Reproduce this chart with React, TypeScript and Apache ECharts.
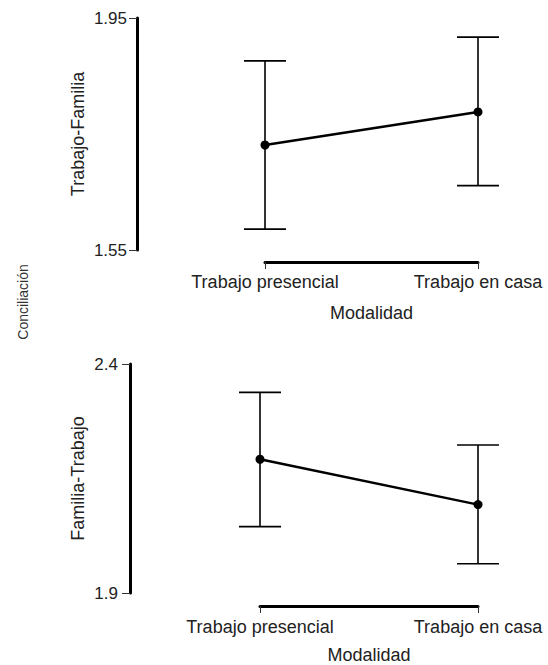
import React, { useEffect, useRef } from "react";
import * as echarts from "echarts";

const categories = ["Trabajo presencial", "Trabajo en casa"];
const tfMean = [1.731, 1.788];
const tfLow = [1.586, 1.661];
const tfHigh = [1.876, 1.917];
const ftMean = [2.192, 2.093];
const ftLow = [2.045, 1.964];
const ftHigh = [2.338, 2.223];
const tfTicks = [1.55, 1.95];
const ftTicks = [1.9, 2.4];

const FONT = "'Liberation Sans', Arial, sans-serif";
const TEXT = "#222";

function errData(low: number[], high: number[]) {
  return low.map((l, i) => [i, l, high[i]]);
}

const renderErr = (params: any, api: any) => {
  const x = api.value(0);
  const lo = api.coord([x, api.value(1)]);
  const hi = api.coord([x, api.value(2)]);
  const hw = 21;
  const style = { stroke: "#000", lineWidth: 1.6 };
  return {
    type: "group",
    children: [
      { type: "line", shape: { x1: lo[0], y1: lo[1], x2: hi[0], y2: hi[1] }, style },
      { type: "line", shape: { x1: hi[0] - hw, y1: hi[1], x2: hi[0] + hw, y2: hi[1] }, style },
      { type: "line", shape: { x1: lo[0] - hw, y1: lo[1], x2: lo[0] + hw, y2: lo[1] }, style },
    ],
  };
};

function xAxisOpt(gridIndex: number, offset: number, margin: number, nameGap: number) {
  return {
    type: "category",
    gridIndex,
    data: categories,
    boundaryGap: false,
    offset,
    axisLine: { show: true, lineStyle: { color: "#000", width: 3 } },
    axisTick: { show: true, length: 7, lineStyle: { color: "#333", width: 1 } },
    axisLabel: { margin, fontSize: 18, color: TEXT, fontFamily: FONT },
    splitLine: { show: false },
    name: "Modalidad",
    nameLocation: "middle",
    nameGap,
    nameTextStyle: { fontSize: 18, color: TEXT, fontFamily: FONT },
  };
}

function yAxisOpt(
  gridIndex: number,
  min: number,
  max: number,
  ticks: number[],
  offset: number,
  margin: number,
  name: string,
  nameGap: number
) {
  return {
    type: "value",
    gridIndex,
    min,
    max,
    offset,
    axisLine: { show: true, lineStyle: { color: "#000", width: 3 } },
    axisTick: { show: true, length: 8, customValues: ticks, lineStyle: { color: "#333", width: 1 } },
    axisLabel: {
      margin,
      fontSize: 17,
      color: TEXT,
      fontFamily: FONT,
      customValues: ticks,
      formatter: (v: number) => String(v),
    },
    splitLine: { show: false },
    name,
    nameLocation: "middle",
    nameGap,
    nameRotate: 90,
    nameTextStyle: { fontSize: 18, color: TEXT, fontFamily: FONT },
  };
}

export default function App() {
  const ref = useRef<HTMLDivElement>(null);
  useEffect(() => {
    document.body.style.margin = "0";
    if (!ref.current) return;
    const chart = echarts.init(ref.current, undefined, { renderer: "svg" });
    chart.setOption({
      animation: false,
      backgroundColor: "#fff",
      textStyle: { fontFamily: FONT },
      grid: [
        { left: 265, right: 70, top: 18, height: 232 },
        { left: 260, right: 70, top: 364, height: 229 },
      ],
      xAxis: [xAxisOpt(0, 12, 11, 42), xAxisOpt(1, 13, 12, 40)],
      yAxis: [
        yAxisOpt(0, 1.55, 1.95, tfTicks, 128, 10, "Trabajo-Familia", 50),
        yAxisOpt(1, 1.9, 2.4, ftTicks, 130, 12, "Familia-Trabajo", 43),
      ],
      graphic: [
        {
          type: "text",
          x: 23,
          y: 302,
          rotation: Math.PI / 2,
          style: {
            text: "Conciliación",
            fontSize: 14,
            fill: "#333",
            fontFamily: FONT,
            align: "center",
            verticalAlign: "middle",
          },
        },
      ],
      series: [
        {
          type: "custom",
          xAxisIndex: 0,
          yAxisIndex: 0,
          data: errData(tfLow, tfHigh),
          encode: { x: 0, y: [1, 2] },
          renderItem: renderErr,
          clip: false,
          z: 1,
        },
        {
          type: "line",
          xAxisIndex: 0,
          yAxisIndex: 0,
          data: tfMean,
          symbol: "circle",
          symbolSize: 9,
          lineStyle: { color: "#000", width: 2.5 },
          itemStyle: { color: "#000" },
          z: 3,
        },
        {
          type: "custom",
          xAxisIndex: 1,
          yAxisIndex: 1,
          data: errData(ftLow, ftHigh),
          encode: { x: 0, y: [1, 2] },
          renderItem: renderErr,
          clip: false,
          z: 1,
        },
        {
          type: "line",
          xAxisIndex: 1,
          yAxisIndex: 1,
          data: ftMean,
          symbol: "circle",
          symbolSize: 9,
          lineStyle: { color: "#000", width: 2.5 },
          itemStyle: { color: "#000" },
          z: 3,
        },
      ],
    });
    return () => chart.dispose();
  }, []);
  return <div ref={ref} style={{ width: 548, height: 665 }} />;
}
